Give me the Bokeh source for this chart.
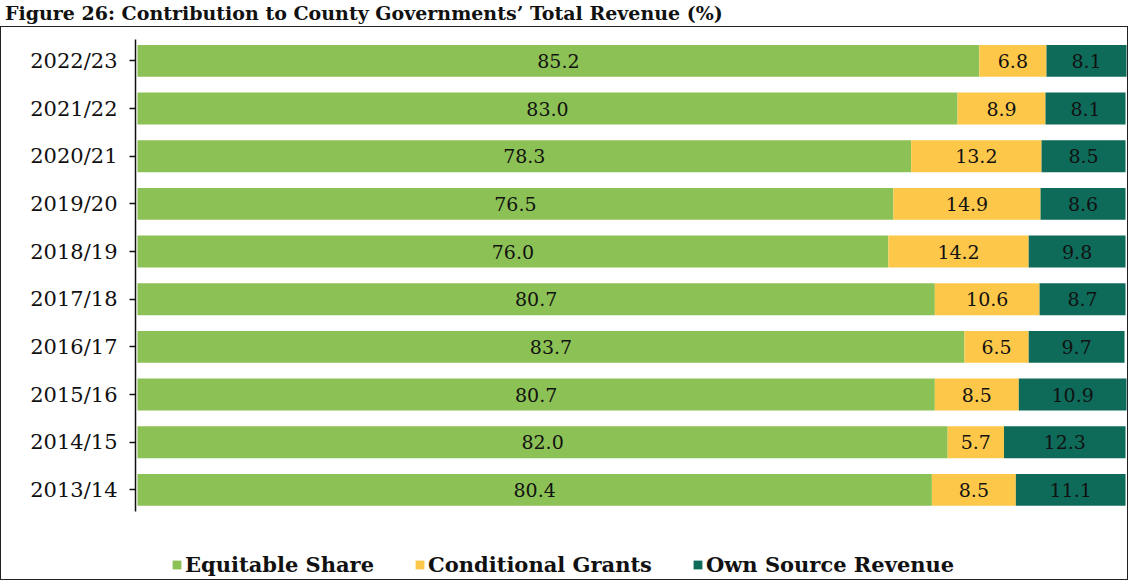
from bokeh.plotting import figure
from bokeh.models import ColumnDataSource, Range1d, Legend, LegendItem, Div, FixedTicker
from bokeh.layouts import column
from bokeh.core.properties import value
from bokeh.embed import file_html
from bokeh.resources import INLINE

# ---- data (top row first, as in the chart) ----
years = ["2022/23", "2021/22", "2020/21", "2019/20", "2018/19",
         "2017/18", "2016/17", "2015/16", "2014/15", "2013/14"]
equitable = [85.2, 83.0, 78.3, 76.5, 76.0, 80.7, 83.7, 80.7, 82.0, 80.4]
conditional = [6.8, 8.9, 13.2, 14.9, 14.2, 10.6, 6.5, 8.5, 5.7, 8.5]
own_source = [8.1, 8.1, 8.5, 8.6, 9.8, 8.7, 9.7, 10.9, 12.3, 11.1]
series_names = ["Equitable Share", "Conditional Grants", "Own Source Revenue"]
colors = ["#8CC155", "#FDC84A", "#0E6B5A"]
title_text = "Figure 26: Contribution to County Governments\u2019 Total Revenue (%)"

FONT = "DejaVu Serif"

# row positions: first year at the top
ypos = [len(years) - 1 - i for i in range(len(years))]

src = ColumnDataSource(dict(
    y=ypos, year=years, eq=equitable, cg=conditional, osr=own_source,
    eq_lbl=[f"{v:.1f}" for v in equitable],
    cg_lbl=[f"{v:.1f}" for v in conditional],
    osr_lbl=[f"{v:.1f}" for v in own_source],
    eq_mid=[e / 2 for e in equitable],
    cg_mid=[e + c / 2 for e, c in zip(equitable, conditional)],
    osr_mid=[e + c + o / 2 for e, c, o in zip(equitable, conditional, own_source)],
))

p = figure(
    width=1126, height=552,
    y_range=Range1d(-1.88, 9.49),
    x_range=Range1d(-0.2, 100.2),
    output_backend="svg", toolbar_location=None,
    min_border_left=134, min_border_right=0, min_border_top=10, min_border_bottom=0,
)

renderers = p.hbar_stack(["eq", "cg", "osr"], y="y", height=0.67, color=colors,
                         line_color=None, source=src)

for mid, lbl in (("eq_mid", "eq_lbl"), ("cg_mid", "cg_lbl"), ("osr_mid", "osr_lbl")):
    p.text(x=mid, y="y", text=lbl, source=src, text_align="center",
           text_baseline="middle", text_font=value(FONT), text_font_size="19px",
           text_color="#111111")

legend = Legend(items=[LegendItem(label=n, renderers=[r]) for n, r in zip(series_names, renderers)],
                orientation="horizontal", location=(36, 2),
                label_text_font=FONT, label_text_font_style="bold",
                label_text_font_size="21px", label_text_color="#111111",
                glyph_width=11, glyph_height=11, label_standoff=3, spacing=40,
                border_line_color=None, background_fill_alpha=0, margin=0, padding=4)
p.add_layout(legend, "center")

p.xaxis.visible = False
p.xgrid.visible = False
p.ygrid.visible = False
p.outline_line_color = None

ya = p.yaxis[0]
ya.ticker = FixedTicker(ticks=ypos)
ya.major_label_overrides = {y: lbl for y, lbl in zip(ypos, years)}
ya.bounds = (-0.46, 9.44)
ya.axis_line_color = "#111111"
ya.axis_line_width = 1.5
ya.major_tick_line_color = "#111111"
ya.major_tick_line_width = 1.5
ya.major_tick_out = 6
ya.major_tick_in = 0
ya.minor_tick_line_color = None
ya.major_label_text_font = FONT
ya.major_label_text_font_size = "21px"
ya.major_label_text_color = "#111111"
ya.major_label_standoff = 12

title = Div(text=title_text, width=1122, height=16,
            styles={"font-family": "DejaVu Serif", "font-weight": "bold", "font-size": "19px",
                    "line-height": "16px", "white-space": "nowrap", "color": "#111"})

box = column(p, styles={"border": "1.5px solid #222"})
layout = column(title, box, spacing=0)

open("out.html", "w").write(file_html(layout, INLINE))
